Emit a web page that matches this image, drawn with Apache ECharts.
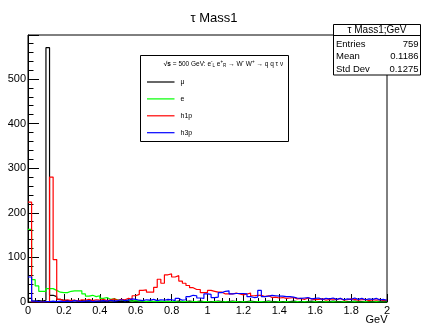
<!DOCTYPE html>
<html>
<head>
<meta charset="utf-8">
<script src="https://cdn.jsdelivr.net/npm/echarts@6/dist/echarts.min.js"></script>
<style>
  html, body { margin: 0; padding: 0; background: #fff; }
  #chart { width: 423px; height: 325px; }
</style>
</head>
<body>
<div id="chart"></div>
<script>
// histogram binning: 100 bins over 0-2 GeV
const binWidth = 0.02;
const xMin = 0, xMax = 2;
const yMax = 598.5;

// bin contents
const muCounts = [
  8, 2, 3, 2, 4, 570, 15, 12, 6, 4,
  3, 2, 4, 1, 3, 2, 2, 3, 1, 2,
  2, 1, 3, 2, 1, 2, 1, 2, 3, 1,
  2, 1, 1, 2, 1, 2, 1, 1, 2, 1,
  1, 2, 1, 1, 2, 1, 1, 2, 1, 1,
  1, 1, 2, 1, 1, 1, 2, 1, 1, 1,
  1, 2, 1, 1, 1, 1, 2, 1, 1, 1,
  1, 1, 1, 2, 1, 1, 1, 1, 2, 1,
  1, 1, 1, 1, 2, 1, 1, 1, 1, 1,
  2, 1, 1, 1, 1, 1, 1, 2, 1, 1
];
const eCounts = [
  163, 50, 36, 24, 24, 30, 30, 26, 22, 21,
  21, 24, 25, 25, 25, 18, 13, 15, 12, 14,
  8, 10, 6, 7, 5, 4, 3, 4, 2, 3,
  2, 2, 1, 2, 1, 1, 2, 1, 1, 1,
  1, 0, 1, 1, 0, 1, 1, 0, 1, 1,
  0, 1, 1, 0, 1, 0, 1, 1, 0, 1,
  0, 1, 0, 1, 1, 0, 1, 0, 0, 1,
  0, 1, 0, 0, 1, 0, 1, 0, 0, 1,
  0, 0, 1, 0, 1, 0, 0, 1, 0, 0,
  1, 0, 0, 1, 0, 0, 1, 0, 0, 0
];
const h1pCounts = [
  224, 0, 0, 0, 0, 0, 280, 95, 6, 3,
  5, 3, 4, 2, 5, 4, 6, 3, 5, 4,
  6, 3, 5, 7, 4, 6, 5, 8, 6, 14,
  17, 26, 27, 22, 22, 33, 51, 42, 61, 63,
  56, 59, 47, 42, 37, 32, 28, 28, 21, 21,
  26, 24, 22, 22, 18, 18, 18, 20, 18, 16,
  18, 20, 14, 15, 15, 12, 14, 10, 11, 9,
  10, 8, 9, 10, 7, 8, 6, 9, 7, 5,
  6, 7, 4, 6, 7, 5, 8, 4, 5, 7,
  6, 4, 5, 6, 3, 5, 4, 6, 3, 4
];
const h3pCounts = [
  56, 2, 1, 0, 1, 1, 2, 1, 2, 1,
  2, 1, 3, 2, 1, 2, 3, 1, 2, 2,
  3, 2, 4, 2, 3, 5, 3, 4, 7, 6,
  4, 3, 5, 4, 6, 3, 5, 4, 6, 5,
  3, 8, 4, 5, 12, 15, 14, 9, 8, 18,
  17, 10, 11, 21, 24, 25, 18, 19, 19, 19,
  18, 12, 10, 11, 26, 12, 13, 15, 14, 13,
  13, 12, 12, 11, 9, 8, 9, 10, 7, 8,
  9, 6, 8, 7, 9, 6, 8, 5, 7, 6,
  9, 6, 8, 5, 7, 6, 8, 5, 6, 4
];

const seriesNames = ['μ', 'e', 'h1p', 'h3p'];
const seriesColors = ['#000000', '#00ff00', '#ff0000', '#0000ff'];
const statsLabels = ['Entries', 'Mean', 'Std Dev'];
const statsValues = ['759', '0.1186', '0.1275'];

const FONT = "'Liberation Sans', Arial, Helvetica, sans-serif";

// bin contents -> step outline points at the bin edges
function toSteps(counts) {
  const pts = counts.map((v, i) => [i * binWidth, v]);
  pts.push([xMax, counts[counts.length - 1]]);
  return pts;
}

const allCounts = [muCounts, eCounts, h1pCounts, h3pCounts];

const chart = echarts.init(document.getElementById('chart'), null, { renderer: 'canvas' });

const graphics = [];

// legend box (drawn by hand, like the ROOT TLegend)
graphics.push({
  type: 'rect', z: 10,
  shape: { x: 140.5, y: 55.5, width: 148, height: 86 },
  style: { fill: '#fff', stroke: '#000', lineWidth: 1 }
});
graphics.push({
  type: 'text', x: 223.5, y: 64, z: 11,
  style: {
    text: '{b|√s} = 500 GeV: e{sup|-}{sub|L} e{sup|+}{sub|R} → W{sup|-} W{sup|+} → q q τ ν',
    font: '6.5px ' + FONT,
    fill: '#000',
    textAlign: 'center',
    textVerticalAlign: 'middle',
    lineHeight: 9,
    rich: {
      b: { fontSize: 6.5, fontWeight: 'bold', fontFamily: FONT, lineHeight: 9 },
      sup: { fontSize: 4.5, fontFamily: FONT, lineHeight: 5, verticalAlign: 'top' },
      sub: { fontSize: 4.5, fontFamily: FONT, lineHeight: 5, verticalAlign: 'bottom' }
    }
  }
});
seriesNames.forEach((name, i) => {
  const y = 82 + i * 16.9;
  graphics.push({
    type: 'line', z: 11,
    shape: { x1: 147, y1: y, x2: 174.5, y2: y },
    style: { stroke: seriesColors[i], lineWidth: 1.2 }
  });
  graphics.push({
    type: 'text', x: 180.5, y: y, z: 11,
    style: { text: name, font: '7px ' + FONT, fill: '#000', textVerticalAlign: 'middle' }
  });
});

// stats box
graphics.push({
  type: 'rect', z: 10,
  shape: { x: 333.5, y: 24.5, width: 87, height: 50.5 },
  style: { fill: '#fff', stroke: '#000', lineWidth: 1 }
});
graphics.push({
  type: 'line', z: 11,
  shape: { x1: 333.5, y1: 35.5, x2: 420.5, y2: 35.5 },
  style: { stroke: '#000', lineWidth: 1 }
});
graphics.push({
  type: 'text', x: 377, y: 30.5, z: 11,
  style: { text: 'τ Mass1;GeV', font: '10px ' + FONT, fill: '#000', textAlign: 'center', textVerticalAlign: 'middle' }
});
statsLabels.forEach((lab, i) => {
  const y = 44.5 + i * 12.2;
  graphics.push({
    type: 'text', x: 336, y: y, z: 11,
    style: { text: lab, font: '9.5px ' + FONT, fill: '#000', textVerticalAlign: 'middle' }
  });
  graphics.push({
    type: 'text', x: 418.5, y: y, z: 11,
    style: { text: statsValues[i], font: '9.5px ' + FONT, fill: '#000', textAlign: 'right', textVerticalAlign: 'middle' }
  });
});

// x axis title
graphics.push({
  type: 'text', x: 387.5, y: 320, z: 11,
  style: { text: 'GeV', font: '11px ' + FONT, fill: '#000', textAlign: 'right', textVerticalAlign: 'middle' }
});

const option = {
  animation: false,
  backgroundColor: '#ffffff',
  title: {
    text: 'τ Mass1',
    left: 209, top: 7,
    textAlign: 'center',
    textStyle: { fontFamily: FONT, fontSize: 13, fontWeight: 'normal', color: '#000' }
  },
  grid: {
    left: 28, right: 36, top: 35, bottom: 23,
    show: true, borderColor: '#000', borderWidth: 1, backgroundColor: 'transparent'
  },
  xAxis: {
    type: 'value',
    min: xMin, max: xMax, interval: 0.2,
    axisLine: { lineStyle: { color: '#000', width: 1 } },
    axisTick: { inside: true, length: 8, lineStyle: { color: '#000' } },
    minorTick: { show: true, splitNumber: 5, length: 4, lineStyle: { color: '#000' } },
    splitLine: { show: false },
    axisLabel: { color: '#000', fontFamily: FONT, fontSize: 11, margin: 3 }
  },
  yAxis: {
    type: 'value',
    min: 0, max: yMax, interval: 100,
    axisLine: { show: true, lineStyle: { color: '#000', width: 1 } },
    axisTick: { inside: true, length: 11, lineStyle: { color: '#000' } },
    minorTick: { show: true, splitNumber: 5, length: 5.5, lineStyle: { color: '#000' } },
    splitLine: { show: false },
    axisLabel: {
      color: '#000', fontFamily: FONT, fontSize: 11, margin: 2,
      showMaxLabel: false,
      formatter: v => (v % 100 === 0 ? String(v) : '')
    }
  },
  series: allCounts.map((counts, i) => ({
    name: seriesNames[i],
    type: 'line',
    step: 'end',
    showSymbol: false,
    symbol: 'none',
    clip: true,
    data: toSteps(counts),
    itemStyle: { color: seriesColors[i] },
    lineStyle: { color: seriesColors[i], width: 1.2 }
  })),
  graphic: graphics
};

chart.setOption(option);
</script>
</body>
</html>
